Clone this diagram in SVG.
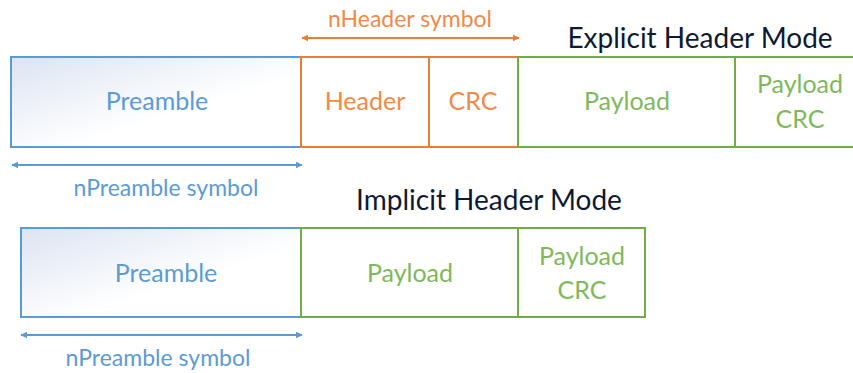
<svg xmlns="http://www.w3.org/2000/svg" width="853" height="373" viewBox="0 0 853 373">
<style>
text{font-family:Lato,"Open Sans","Liberation Sans",sans-serif;text-anchor:middle}
.b{fill:none;stroke:#5B9BD5;stroke-width:2}
.o{fill:none;stroke:#ED7D31;stroke-width:2}
.g{fill:none;stroke:#70AD47;stroke-width:2}
.tb{fill:#5B9BD5;font-size:25px}
.to{fill:#F08A4B;font-size:25px}
.tg{fill:#7DB95B;font-size:25px}
.lb{fill:#5B9BD5;font-size:23px}
.lo{fill:#F08A4B;font-size:23px}
.tt{fill:#0E1A33;font-size:28px}
</style>
<defs>
<linearGradient id="pg" x1="0" y1="0" x2="1" y2="1">
<stop offset="0" stop-color="#DCE4F1"/>
<stop offset="0.6" stop-color="#FFFFFF"/>
</linearGradient>
<marker id="ab" viewBox="0 0 10 10" refX="9" refY="5" markerWidth="3.5" markerHeight="3.5" orient="auto-start-reverse"><path d="M0,0L10,5L0,10z" fill="#5B9BD5"/></marker>
<marker id="ao" viewBox="0 0 10 10" refX="9" refY="5" markerWidth="3.5" markerHeight="3.5" orient="auto-start-reverse"><path d="M0,0L10,5L0,10z" fill="#ED7D31"/></marker>
</defs>
<rect width="853" height="373" fill="#FFFFFF"/>
<text class="tt" x="700" y="48">Explicit Header Mode</text>
<text class="tt" x="489" y="210">Implicit Header Mode</text>
<g id="e-preamble"><rect x="11" y="57" width="290" height="90" fill="url(#pg)" stroke="#5B9BD5" stroke-width="2"/><text class="tb" x="157" y="110">Preamble</text></g>
<g id="e-header"><rect class="o" x="301" y="57" width="128" height="90"/><text class="to" x="365" y="110">Header</text></g>
<g id="e-crc"><rect class="o" x="429" y="57" width="89" height="90"/><text class="to" x="473" y="110">CRC</text></g>
<g id="e-payload"><rect class="g" x="518" y="57" width="217" height="90"/><text class="tg" x="627" y="110">Payload</text></g>
<g id="e-payloadcrc"><rect class="g" x="735" y="57" width="130" height="90"/><text class="tg" x="800" y="93">Payload</text><text class="tg" x="800" y="128">CRC</text></g>
<g id="i-preamble"><rect x="21" y="228" width="280" height="89" fill="url(#pg)" stroke="#5B9BD5" stroke-width="2"/><text class="tb" x="166" y="282">Preamble</text></g>
<g id="i-payload"><rect class="g" x="301" y="228" width="217" height="89"/><text class="tg" x="410" y="282">Payload</text></g>
<g id="i-payloadcrc"><rect class="g" x="518" y="228" width="127" height="89"/><text class="tg" x="582" y="265">Payload</text><text class="tg" x="582" y="299">CRC</text></g>
<g id="connectors">
<line x1="302" y1="38" x2="519" y2="38" stroke="#ED7D31" stroke-width="2" marker-start="url(#ao)" marker-end="url(#ao)"/>
<line x1="12" y1="165" x2="302" y2="165" stroke="#5B9BD5" stroke-width="2" marker-start="url(#ab)" marker-end="url(#ab)"/>
<line x1="21" y1="335" x2="302" y2="335" stroke="#5B9BD5" stroke-width="2" marker-start="url(#ab)" marker-end="url(#ab)"/>
</g>
<text class="lo" x="410" y="27">nHeader symbol</text>
<text class="lb" x="166" y="196">nPreamble symbol</text>
<text class="lb" x="158" y="366">nPreamble symbol</text>
</svg>
